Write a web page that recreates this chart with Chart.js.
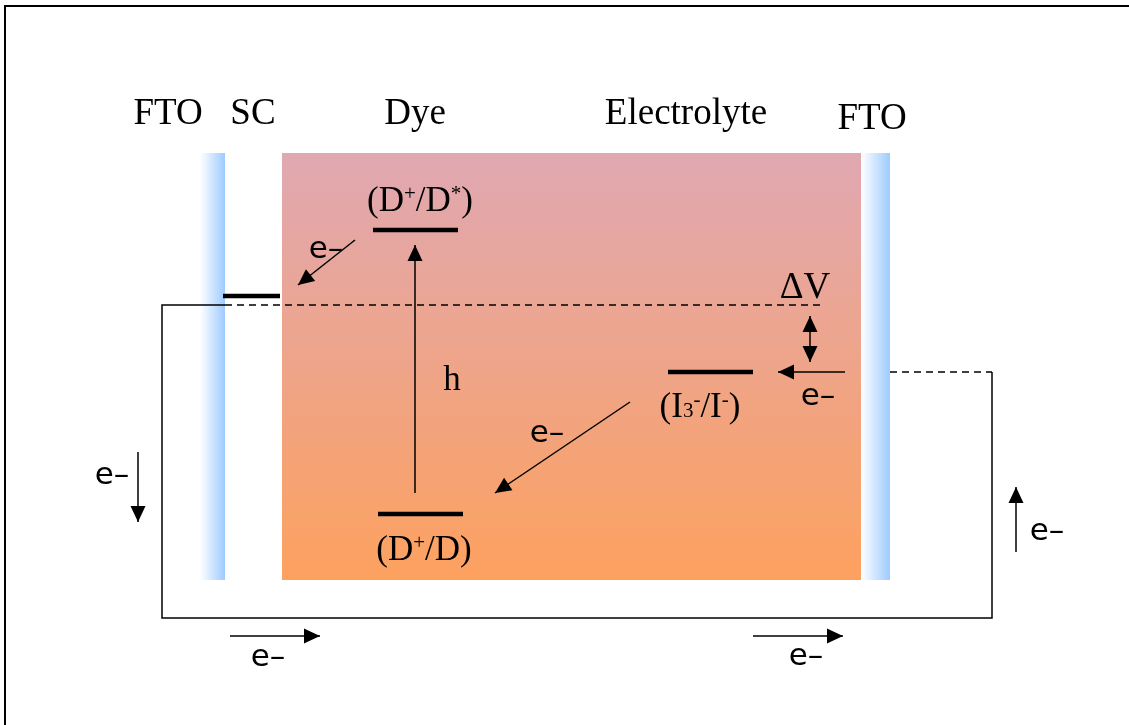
<!DOCTYPE html>
<html>
<head>
<meta charset="utf-8">
<script src="https://cdn.jsdelivr.net/npm/chart.js@4.4.1/dist/chart.umd.min.js"></script>
<style>
  html, body { margin: 0; padding: 0; background: #fff; }
  canvas { display: block; }
</style>
</head>
<body>
<canvas id="cell" width="1129" height="725"></canvas>
<script>
// Layer columns (x ranges) and common vertical extent
const layerNames = ['FTO', 'SC', 'Dye', 'FTO'];
const layerX0 = [200, 225, 282, 861];
const layerX1 = [225, 282, 861, 890];
const layerTop = 153;
const layerBottom = 580;

// Column headings
const headLabels = ['FTO', 'SC', 'Dye', 'Electrolyte', 'FTO'];
const headX = [168, 253, 415, 686, 872];
const headY = [114, 114, 114, 114, 119];

// Energy levels
const levelX0 = [223, 373, 378, 668];
const levelX1 = [280, 458, 463, 753];
const levelY = [296, 230, 514, 372];

// Level labels: segments as [text, kind] where kind = n (normal), sup, sub
const levelLabels = [
    [['(D', 'n'], ['+', 'sup'], ['/D', 'n'], ['*', 'sup'], [')', 'n']],
    [['(D', 'n'], ['+', 'sup'], ['/D', 'n'], [')', 'n']],
    [['(I', 'n'], ['3', 'sub'], ['-', 'sup'], ['/I', 'n'], ['-', 'sup'], [')', 'n']]
];
const levelLabelX = [420, 424, 700];
const levelLabelY = [199, 548, 405];

// External circuit
const wireSolid = [[225, 305], [162, 305], [162, 618], [992, 618], [992, 372]];
const wireDashA = [[225, 305], [825, 305]];
const wireDashB = [[890, 372], [992, 372]];

// Arrows: from -> to
const arrowFrom = [[355, 240], [415, 493], [630, 402], [845, 372], [138, 452], [230, 636], [753, 636], [1016, 552]];
const arrowTo = [[298, 285], [415, 245], [495, 493], [778, 372], [138, 522], [320, 636], [843, 636], [1016, 487]];
const dblArrowX = 810;
const dblArrowY = [316, 362];

// Electron labels
const eLabelX = [326, 547, 818, 112, 268, 806, 1047];
const eLabelY = [250, 434, 397, 476, 658, 657, 532];

const toPts = arr => arr.map(p => ({ x: p[0], y: p[1] }));

const lineSet = (pts, width, dash) => ({
    type: 'line',
    data: toPts(pts),
    showLine: true,
    borderColor: '#000',
    borderWidth: width,
    borderDash: dash || [],
    pointRadius: 0,
    fill: false,
    tension: 0
});

const datasets = [];
// frame
datasets.push(lineSet([[5, 725], [5, 6], [1129, 6]], 2));
// wires
datasets.push(lineSet(wireSolid, 1.5));
datasets.push(lineSet(wireDashA, 1.5, [7, 5]));
datasets.push(lineSet(wireDashB, 1.5, [7, 5]));
// levels
levelY.forEach((y, i) => datasets.push(lineSet([[levelX0[i], y], [levelX1[i], y]], 4.5)));
// arrow shafts
arrowFrom.forEach((f, i) => datasets.push(lineSet([f, arrowTo[i]], 1.5)));
datasets.push(lineSet([[dblArrowX, dblArrowY[0]], [dblArrowX, dblArrowY[1]]], 1.5));

function head(ctx, x1, y1, x2, y2) {
    const a = Math.atan2(y2 - y1, x2 - x1);
    const len = 16, w = 7.5;
    ctx.beginPath();
    ctx.moveTo(x2, y2);
    ctx.lineTo(x2 - len * Math.cos(a) + w * Math.sin(a), y2 - len * Math.sin(a) - w * Math.cos(a));
    ctx.lineTo(x2 - len * Math.cos(a) - w * Math.sin(a), y2 - len * Math.sin(a) + w * Math.cos(a));
    ctx.closePath();
    ctx.fill();
}

function richText(ctx, segs, cx, cy, size) {
    const fam = '"Liberation Serif", serif';
    const fontFor = k => (k === 'n' ? size : Math.round(size * 0.6)) + 'px ' + fam;
    let total = 0;
    segs.forEach(s => { ctx.font = fontFor(s[1]); total += ctx.measureText(s[0]).width; });
    let x = cx - total / 2;
    ctx.textAlign = 'left';
    ctx.textBaseline = 'alphabetic';
    const base = cy + size * 0.33;
    segs.forEach(s => {
        ctx.font = fontFor(s[1]);
        let y = base;
        if (s[1] === 'sup') y = base - size * 0.3;
        if (s[1] === 'sub') y = base + size * 0.02;
        ctx.fillText(s[0], x, y);
        x += ctx.measureText(s[0]).width;
    });
}

const diagramPlugin = {
    id: 'diagram',
    beforeDatasetsDraw(chart) {
        const { ctx, scales: { x, y } } = chart;
        const top = y.getPixelForValue(layerTop);
        const bot = y.getPixelForValue(layerBottom);
        ctx.save();
        layerNames.forEach((name, i) => {
            const l = x.getPixelForValue(layerX0[i]);
            const r = x.getPixelForValue(layerX1[i]);
            let fill;
            if (name === 'FTO') {
                fill = ctx.createLinearGradient(l, 0, r, 0);
                fill.addColorStop(0, '#ffffff');
                fill.addColorStop(1, '#9ecbff');
            } else if (name === 'Dye') {
                fill = ctx.createLinearGradient(0, top, 0, bot);
                fill.addColorStop(0, '#e0a8b2');
                fill.addColorStop(1, '#fda15f');
            } else {
                fill = '#ffffff';
            }
            ctx.fillStyle = fill;
            ctx.fillRect(l, top, r - l, bot - top);
        });
        ctx.restore();
    },
    afterDatasetsDraw(chart) {
        const { ctx, scales: { x, y } } = chart;
        const px = v => x.getPixelForValue(v);
        const py = v => y.getPixelForValue(v);
        ctx.save();
        ctx.fillStyle = '#000';
        // arrowheads
        arrowFrom.forEach((f, i) => {
            head(ctx, px(f[0]), py(f[1]), px(arrowTo[i][0]), py(arrowTo[i][1]));
        });
        head(ctx, px(dblArrowX), py(339), px(dblArrowX), py(dblArrowY[0]));
        head(ctx, px(dblArrowX), py(339), px(dblArrowX), py(dblArrowY[1]));

        // headings
        ctx.font = '37px "Liberation Serif", serif';
        ctx.textAlign = 'center';
        ctx.textBaseline = 'middle';
        headLabels.forEach((t, i) => ctx.fillText(t, px(headX[i]), py(headY[i])));

        // level labels
        levelLabels.forEach((segs, i) => richText(ctx, segs, px(levelLabelX[i]), py(levelLabelY[i]), 35));

        // photon and potential labels
        ctx.font = '35px "Liberation Serif", serif';
        ctx.textAlign = 'center';
        ctx.textBaseline = 'middle';
        ctx.fillText('h', px(452), py(381));
        ctx.font = '37px "Liberation Serif", serif';
        ctx.fillText('\u0394V', px(805), py(288));

        // electron labels
        ctx.font = '31px "DejaVu Sans", sans-serif';
        eLabelX.forEach((ex, i) => ctx.fillText('e\u2013', px(ex), py(eLabelY[i])));
        ctx.restore();
    }
};

new Chart(document.getElementById('cell'), {
    type: 'scatter',
    data: { datasets: datasets },
    options: {
        responsive: false,
        animation: false,
        layout: { padding: 0 },
        plugins: { legend: { display: false }, tooltip: { enabled: false } },
        scales: {
            x: { type: 'linear', min: 0, max: 1129, display: false },
            y: { type: 'linear', min: 0, max: 725, reverse: true, display: false }
        }
    },
    plugins: [diagramPlugin]
});
</script>
</body>
</html>
